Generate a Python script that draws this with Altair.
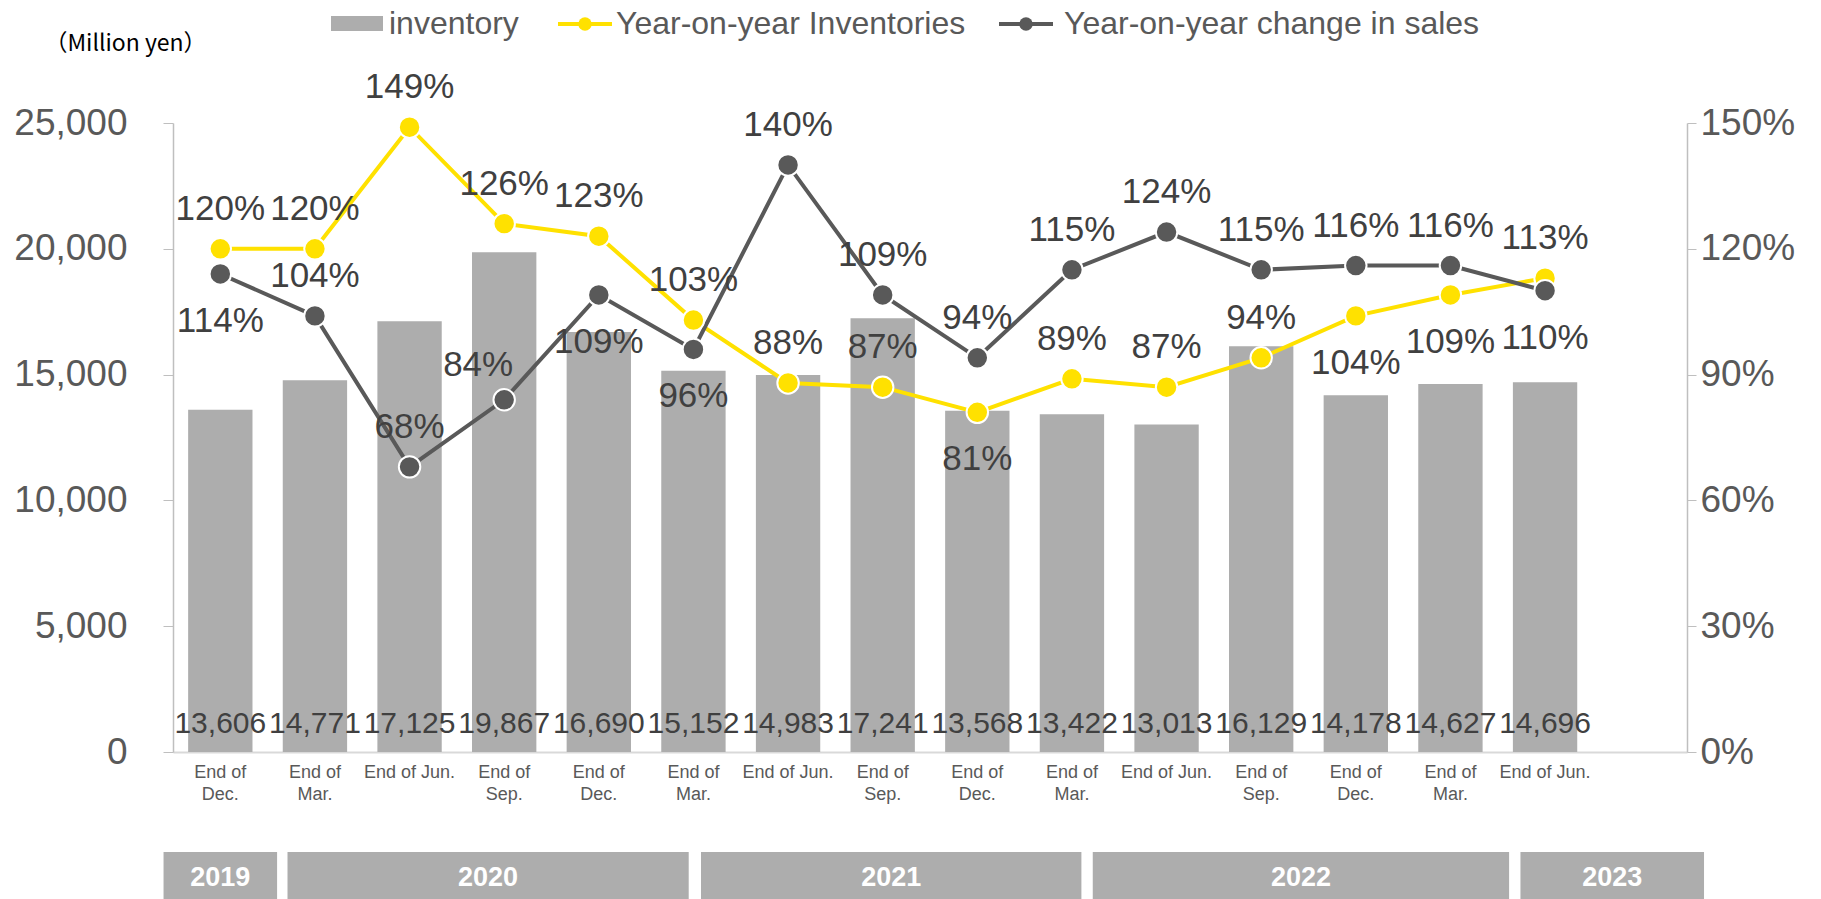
import altair as alt
import pandas as pd

# ---------------- data ----------------
periods = ["End of|Dec.", "End of|Mar.", "End of Jun.", "End of|Sep.", "End of|Dec.",
           "End of|Mar.", "End of Jun.", "End of|Sep.", "End of|Dec.", "End of|Mar.",
           "End of Jun.", "End of|Sep.", "End of|Dec.", "End of|Mar.", "End of Jun."]
inventory = [13606, 14771, 17125, 19867, 16690, 15152, 14983, 17241, 13568, 13422,
             13013, 16129, 14178, 14627, 14696]
yoy_inventories = [120, 120, 149, 126, 123, 103, 88, 87, 81, 89, 87, 94, 104, 109, 113]
yoy_sales = [114, 104, 68, 84, 109, 96, 140, 109, 94, 115, 124, 115, 116, 116, 110]
inv_label_side = ["above", "above", "above", "above", "above", "above", "above", "above",
                  "below", "above", "above", "above", "below", "below", "above"]
sales_label_side = ["below", "above", "above", "left", "below", "below", "above", "above",
                    "above", "above", "above", "above", "above", "above", "below"]
years = ["2019", "2020", "2021", "2022", "2023"]
year_start = [-0.1, 1.21, 5.58, 9.72, 14.24]   # in category units
year_end = [1.10, 5.45, 9.60, 14.12, 16.18]
series_names = ["inventory", "Year-on-year Inventories", "Year-on-year change in sales"]

# ---------------- tables ----------------
keys = [f"k{i:02d}" for i in range(len(periods))]
domain_keys = keys + [f"k{len(periods):02d}"]

bars_df = pd.DataFrame({"key": keys, "period": periods, "inventory": inventory,
                        "zero": [0] * len(keys)})
line_df = pd.concat([
    pd.DataFrame({"key": keys, "series": series_names[1], "value": yoy_inventories,
                  "side": inv_label_side}),
    pd.DataFrame({"key": keys, "series": series_names[2], "value": yoy_sales,
                  "side": sales_label_side}),
], ignore_index=True)
year_df = pd.DataFrame({"year": years, "start": year_start, "end": year_end})

# ---------------- styles ----------------
W, H = 1514, 629
FONT = "Liberation Sans, Arial, sans-serif"
GRAY_BAR = "#ADADAD"
YELLOW = "#FFE100"
DARK = "#595959"
TXT = "#404040"
AX = "#595959"


def xs():
    return alt.Scale(domain=domain_keys, paddingInner=0.32, paddingOuter=0.16)


def x_plain():
    return alt.X("key:N", sort=None, scale=xs(), axis=None)


def inv_scale():
    return alt.Scale(domain=[0, 25000], nice=False)


def pct_scale():
    return alt.Scale(domain=[0, 150], nice=False)


color_scale = alt.Scale(domain=series_names, range=[GRAY_BAR, YELLOW, DARK])

# ---------------- inventory bars + left axis ----------------
bars = alt.Chart(bars_df).mark_bar(color=GRAY_BAR).encode(
    x=alt.X("key:N", sort=None, scale=xs(),
            axis=alt.Axis(title=None, labels=False, ticks=False, domainColor="#D9D9D9",
                          domainWidth=2)),
    y=alt.Y("inventory:Q", scale=inv_scale(),
            axis=alt.Axis(title="（Million yen）", values=[0, 5000, 10000, 15000, 20000, 25000],
                          format=",.0f", labelFontSize=37, labelColor=AX, labelFont=FONT,
                          labelPadding=36, tickSize=10, tickColor="#BFBFBF",
                          domainColor="#BFBFBF", domainWidth=1.5, grid=False,
                          titleAngle=0, titleX=-48, titleY=-80, titleAlign="center",
                          titleBaseline="middle", titleFont="Noto Sans CJK JP",
                          titleFontSize=23, titleFontWeight="normal", titleColor="#000000")),
)
bar_text = alt.Chart(bars_df).mark_text(
    fontSize=30, color=TXT, font=FONT, baseline="middle", dy=-28
).encode(
    x=x_plain(),
    y=alt.Y("zero:Q", scale=inv_scale(), axis=None),
    text=alt.Text("inventory:Q", format=","),
)
cat_text = alt.Chart(bars_df).mark_text(
    fontSize=18, color=AX, font=FONT, baseline="top", lineBreak="|", lineHeight=22
).encode(
    x=x_plain(),
    y=alt.Y("zero:Q", scale=inv_scale(), axis=None),
    yOffset=alt.value(12),
    text="period:N",
)

# ---------------- percent lines + right axis ----------------
lines = alt.Chart(line_df).mark_line(strokeWidth=4).encode(
    x=x_plain(),
    y=alt.Y("value:Q", scale=pct_scale(),
            axis=alt.Axis(orient="right", title=None, values=[0, 30, 60, 90, 120, 150],
                          labelExpr="datum.value + '%'", labelFontSize=37, labelColor=AX,
                          labelFont=FONT, labelPadding=4, tickSize=9, tickColor="#BFBFBF",
                          domainColor="#BFBFBF", domainWidth=1.5, grid=False)),
    color=alt.Color("series:N", scale=color_scale, legend=None),
    detail="series:N",
)
points = alt.Chart(line_df).mark_point(
    filled=True, size=460, stroke="white", strokeWidth=2, opacity=1
).encode(
    x=x_plain(),
    y=alt.Y("value:Q", scale=pct_scale(), axis=None),
    color=alt.Color("series:N", scale=color_scale, legend=None),
)


def labels(side, dx, dy):
    return alt.Chart(line_df).transform_filter(
        alt.datum.side == side
    ).transform_calculate(
        lbl="format(datum.value, 'd') + '%'"
    ).mark_text(fontSize=35, color=TXT, font=FONT, baseline="middle", dx=dx, dy=dy).encode(
        x=x_plain(),
        y=alt.Y("value:Q", scale=pct_scale(), axis=None),
        text="lbl:N",
    )


lab_above = labels("above", 0, -40)
lab_below = labels("below", 0, 47)
lab_left = labels("left", -26, -35)

# ---------------- legend (drawn above the plot) ----------------
LEG_Y = -99


def legend_text(name, x):
    return alt.Chart(pd.DataFrame({"series": [name]})).mark_text(
        align="left", baseline="middle", fontSize=32, color=AX, font=FONT
    ).encode(x=alt.value(x), y=alt.value(LEG_Y), text="series:N")


def legend_line_marker(name, color, cx):
    d = pd.DataFrame({"series": [name]})
    rule = alt.Chart(d).mark_rule(color=color, strokeWidth=4).encode(
        x=alt.value(cx - 27), x2=alt.value(cx + 27), y=alt.value(LEG_Y))
    dot = alt.Chart(d).mark_point(filled=True, shape="circle", size=180, color=color,
                                  opacity=1, strokeWidth=0).encode(
        x=alt.value(cx), y=alt.value(LEG_Y))
    return [rule, dot]


leg_swatch = alt.Chart(pd.DataFrame({"series": [series_names[0]]})).mark_rect(
    color=GRAY_BAR
).encode(x=alt.value(158), x2=alt.value(210), y=alt.value(LEG_Y - 8), y2=alt.value(LEG_Y + 7))
legend_layers = (
    [leg_swatch, legend_text(series_names[0], 216)]
    + legend_line_marker(series_names[1], YELLOW, 412)
    + [legend_text(series_names[1], 443)]
    + legend_line_marker(series_names[2], DARK, 853)
    + [legend_text(series_names[2], 891)]
)

# ---------------- year strip (below the axis) ----------------
xq_scale = alt.Scale(domain=[0, 16], nice=False, zero=False)
year_rect = alt.Chart(year_df).mark_rect(color=GRAY_BAR).encode(
    x=alt.X("start:Q", scale=xq_scale, axis=None), x2="end:Q",
    y=alt.value(H + 100), y2=alt.value(H + 150),
)
year_text = alt.Chart(year_df).transform_calculate(
    mid="(datum.start + datum.end) / 2"
).mark_text(color="white", fontSize=27, fontWeight="bold", font=FONT, baseline="middle").encode(
    x=alt.X("mid:Q", scale=xq_scale, axis=None),
    y=alt.value(H + 126),
    text="year:N",
)

chart = alt.layer(
    bars, bar_text, cat_text, lines, points, lab_above, lab_below, lab_left,
    year_rect, year_text, *legend_layers
).resolve_scale(
    y="independent", x="independent"
).properties(
    width=W, height=H, padding={"left": 5, "top": 0, "right": 5, "bottom": 0}
).configure_view(strokeWidth=0)

chart.save("out.html", embed_options={"renderer": "svg", "actions": False})
